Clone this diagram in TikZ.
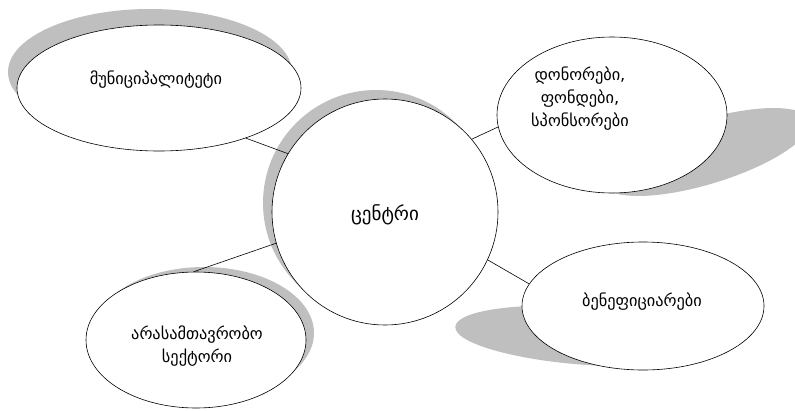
\documentclass[tikz,border=0pt]{standalone}
\usepackage{fontspec}
\setmainfont{DejaVu Sans}
\usetikzlibrary{shapes.geometric}
\definecolor{shadowgrey}{RGB}{191,191,191}
\tikzset{
  bubble/.style={ellipse, draw=black, line width=0.6pt, fill=white, inner sep=0pt},
  shade/.style={fill=shadowgrey, draw=none},
  link/.style={draw=black, line width=0.6pt},
  lbl/.style={font=\fontsize{16.3}{23}\selectfont, align=center, inner sep=0pt}
}
\begin{document}
\begin{tikzpicture}[x=1pt,y=-1pt]
\useasboundingbox (0,0) rectangle (795,410);
% shadows
\fill[shade] (150,72) ellipse [x radius=142, y radius=63];
\fill[shade] (376,203) circle [radius=113];
\fill[shade, rotate around={17:(706,152)}] (706,152) ellipse [x radius=108, y radius=32];
\fill[shade] (204,333) ellipse [x radius=110, y radius=66];
\fill[shade, rotate around={-4:(588,336)}] (588,336) ellipse [x radius=133, y radius=29];
% bubbles
\node[bubble, minimum width=284pt, minimum height=126pt] (muni) at (159,88) {};
\node[bubble, minimum width=226pt, minimum height=226pt] (centre) at (385,212) {};
\node[bubble, minimum width=230pt, minimum height=156pt] (donor) at (612,115) {};
\node[bubble, minimum width=220pt, minimum height=136pt] (ngo) at (196,340) {};
\node[bubble, minimum width=242pt, minimum height=128pt] (benef) at (643,306) {};
% labels
\node[lbl] (tmuni) at (156,80) {მუნიციპალიტეტი};
\node[lbl, font=\fontsize{19}{23}\selectfont] (tcentre) at (385,215) {ცენტრი};
\node[lbl] (tdonor) at (580,99) {დონორები,\\ფონდები,\\სპონსორები};
\node[lbl] (tngo) at (197,346) {არასამთავრობო\\სექტორი};
\node[lbl] (tbenef) at (642,302) {ბენეფიციარები};
% connectors
\draw[link] (muni.-30.2) -- (centre.149.2);
\draw[link] (centre.40) -- (donor.186);
\draw[link] (centre.196.7) -- (ngo.92.5);
\draw[link] (centre.-25.4) -- (benef.169.5);
\end{tikzpicture}
\end{document}
